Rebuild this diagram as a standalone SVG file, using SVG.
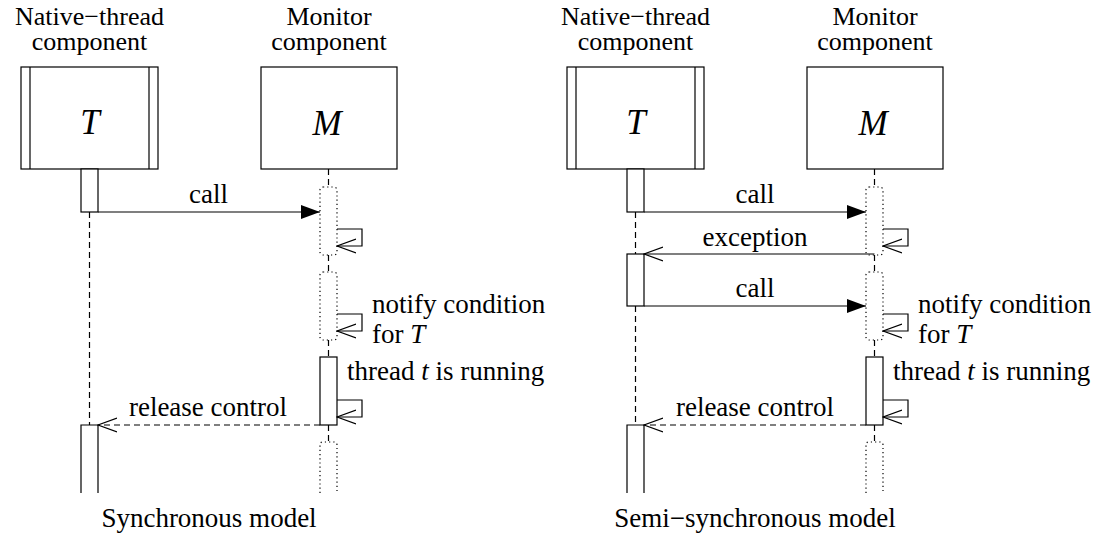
<svg xmlns="http://www.w3.org/2000/svg" width="1101" height="537" viewBox="0 0 1101 537" font-family="'Liberation Serif', 'Times New Roman', serif">
<style>
  text { font-family: "Liberation Serif", "Times New Roman", serif; font-size: 27px; fill: #000; }
  .mid { text-anchor: middle; }
  .title { font-size: 26px; }
  .big { font-size: 35px; font-style: italic; }
  .it { font-style: italic; }
  .box { fill: #fff; stroke: #000; stroke-width: 1.2; }
  .ln { fill: none; stroke: #000; stroke-width: 1.2; }
  .life { fill: none; stroke: #000; stroke-width: 1.2; stroke-dasharray: 6 4; }
  .dot { fill: none; stroke: #000; stroke-width: 1.2; stroke-dasharray: 1.2 3; }
  .dash { fill: none; stroke: #000; stroke-width: 1.2; stroke-dasharray: 6 4; }
</style>
<defs>
  <marker id="filled" markerWidth="20" markerHeight="14" refX="19" refY="7" orient="auto" markerUnits="userSpaceOnUse">
    <path d="M0,0 L19,7 L0,14 Z" fill="#000"/>
  </marker>
  <marker id="open" markerWidth="20" markerHeight="16" refX="19" refY="8" orient="auto" markerUnits="userSpaceOnUse">
    <path d="M0,1 L19,8 L0,15" fill="none" stroke="#000" stroke-width="1.2"/>
  </marker>
  <g id="selfcall">
    <path d="M0,0 H25 V17 H0" class="ln" marker-end="url(#open)"/>
  </g>
</defs>

<!-- ===== Left: Synchronous model ===== -->
<g id="left-T">
  <text class="mid title" x="89.5" y="25">Native−thread</text>
  <text class="mid title" x="89.5" y="50">component</text>
  <rect class="box" x="21" y="67" width="137" height="102"/>
  <line class="ln" x1="30" y1="67" x2="30" y2="169"/>
  <line class="ln" x1="149" y1="67" x2="149" y2="169"/>
  <text class="mid big" x="90" y="134">T</text>
</g>
<g id="left-M">
  <text class="mid title" x="329" y="25">Monitor</text>
  <text class="mid title" x="329" y="50">component</text>
  <rect class="box" x="261" y="67" width="136" height="102"/>
  <text class="mid big" x="327" y="135">M</text>
</g>
<g id="left-T-act1"><rect class="box" x="81" y="169" width="17" height="43"/></g>
<g id="left-T-act2"><path class="ln" d="M81,493 V425 H98 V493"/></g>
<g id="left-M-act1"><rect class="dot" x="320" y="187" width="17" height="68" rx="3"/></g>
<g id="left-M-act2"><rect class="dot" x="320" y="272" width="17" height="68" rx="3"/></g>
<g id="left-M-act3"><rect class="box" x="320" y="357" width="17" height="68"/></g>
<g id="left-M-act4"><path class="dot" d="M320,493 V445 Q320,442 323,442 H334 Q337,442 337,445 V493"/></g>
<g id="left-labels">
  <text x="372" y="313">notify condition</text>
  <text x="372" y="343">for <tspan class="it">T</tspan></text>
  <text x="347" y="380">thread <tspan class="it">t</tspan> is running</text>
  <text class="mid" x="209" y="527">Synchronous model</text>
</g>

<!-- ===== Right: Semi-synchronous model ===== -->
<g id="right-T">
  <text class="mid title" x="635.5" y="25">Native−thread</text>
  <text class="mid title" x="635.5" y="50">component</text>
  <rect class="box" x="567" y="67" width="137" height="102"/>
  <line class="ln" x1="576" y1="67" x2="576" y2="169"/>
  <line class="ln" x1="695" y1="67" x2="695" y2="169"/>
  <text class="mid big" x="636" y="134">T</text>
</g>
<g id="right-M">
  <text class="mid title" x="875" y="25">Monitor</text>
  <text class="mid title" x="875" y="50">component</text>
  <rect class="box" x="807" y="67" width="136" height="102"/>
  <text class="mid big" x="873" y="135">M</text>
</g>
<g id="right-T-act1"><rect class="box" x="627" y="169" width="17" height="43"/></g>
<g id="right-T-act2"><rect class="box" x="627" y="254" width="17" height="52"/></g>
<g id="right-T-act3"><path class="ln" d="M627,493 V425 H644 V493"/></g>
<g id="right-M-act1"><rect class="dot" x="866" y="187" width="17" height="68" rx="3"/></g>
<g id="right-M-act2"><rect class="dot" x="866" y="272" width="17" height="68" rx="3"/></g>
<g id="right-M-act3"><rect class="box" x="866" y="357" width="17" height="68"/></g>
<g id="right-M-act4"><path class="dot" d="M866,493 V445 Q866,442 869,442 H880 Q883,442 883,445 V493"/></g>
<g id="right-labels">
  <text x="918" y="313">notify condition</text>
  <text x="918" y="343">for <tspan class="it">T</tspan></text>
  <text x="893" y="380">thread <tspan class="it">t</tspan> is running</text>
  <text class="mid" x="755" y="527">Semi−synchronous model</text>
</g>

<!-- ===== Connectors ===== -->
<g id="connectors">
  <line class="life" x1="89.5" y1="212" x2="89.5" y2="425"/>
  <line class="life" x1="328.5" y1="169" x2="328.5" y2="187"/>
  <line class="life" x1="328.5" y1="255" x2="328.5" y2="272"/>
  <line class="life" x1="328.5" y1="340" x2="328.5" y2="357"/>
  <line class="life" x1="328.5" y1="425" x2="328.5" y2="442"/>
  <line class="ln" x1="98" y1="212" x2="320" y2="212" marker-end="url(#filled)"/>
  <text class="mid" x="208.5" y="203">call</text>
  <use href="#selfcall" x="337" y="229"/>
  <use href="#selfcall" x="337" y="314"/>
  <use href="#selfcall" x="337" y="400"/>
  <line class="dash" x1="320" y1="425" x2="98" y2="425" marker-end="url(#open)"/>
  <text class="mid" x="208" y="416">release control</text>

  <line class="life" x1="635.5" y1="212" x2="635.5" y2="254"/>
  <line class="life" x1="635.5" y1="306" x2="635.5" y2="425"/>
  <line class="life" x1="874.5" y1="169" x2="874.5" y2="187"/>
  <line class="life" x1="874.5" y1="255" x2="874.5" y2="272"/>
  <line class="life" x1="874.5" y1="340" x2="874.5" y2="357"/>
  <line class="life" x1="874.5" y1="425" x2="874.5" y2="442"/>
  <line class="ln" x1="644" y1="212" x2="866" y2="212" marker-end="url(#filled)"/>
  <text class="mid" x="755" y="203">call</text>
  <use href="#selfcall" x="883" y="229"/>
  <line class="ln" x1="874.5" y1="254" x2="644" y2="254" marker-end="url(#open)"/>
  <text class="mid" x="755" y="246">exception</text>
  <line class="ln" x1="644" y1="306" x2="866" y2="306" marker-end="url(#filled)"/>
  <text class="mid" x="755" y="297">call</text>
  <use href="#selfcall" x="883" y="314"/>
  <use href="#selfcall" x="883" y="400"/>
  <line class="dash" x1="866" y1="425" x2="644" y2="425" marker-end="url(#open)"/>
  <text class="mid" x="755" y="416">release control</text>
</g>
</svg>
